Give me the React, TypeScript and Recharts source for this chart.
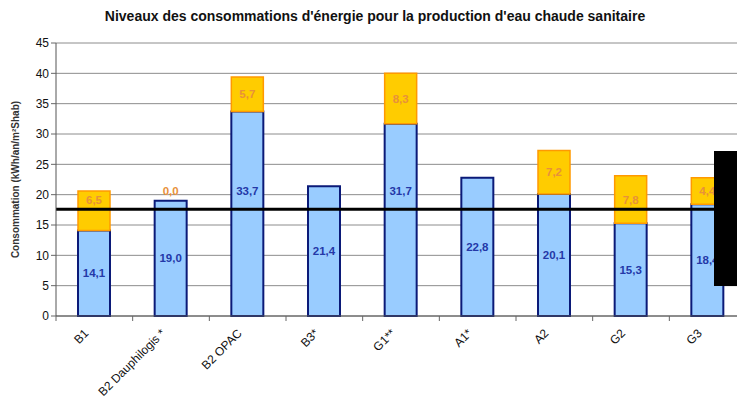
import React from "react";
import { Bar, BarChart, CartesianGrid, LabelList, ReferenceLine, XAxis, YAxis } from "recharts";

const categories = ["B1", "B2 Dauphilogis *", "B2 OPAC", "B3*", "G1**", "A1*", "A2", "G2", "G3"];
const baseValues = [14.1, 19.0, 33.7, 21.4, 31.7, 22.8, 20.1, 15.3, 18.4];
const extraValues: (number | null)[] = [6.5, 0.0, 5.7, null, 8.3, null, 7.2, 7.8, 4.4];
const yTicks = [0, 5, 10, 15, 20, 25, 30, 35, 40, 45];
const threshold = 17.6;

const title = "Niveaux des consommations d'énergie pour la production d'eau chaude sanitaire";
const yTitle = "Consommation (kWh/an/m²Shab)";

const data = categories.map((name, i) => ({ name, base: baseValues[i], extra: extraValues[i] }));

const FONT = "'Liberation Sans', Arial, sans-serif";
const BLUE_TXT = "#2438a8";
const ORANGE_TXT = "#e8913a";
const fmt = (v: number) => v.toFixed(1).replace(".", ",");

const labelText = (cx: number, cy: number, v: number, color: string) => (
  <text
    x={cx}
    y={cy}
    textAnchor="middle"
    dominantBaseline="central"
    fontFamily={FONT}
    fontSize={11.5}
    fontWeight="bold"
    fill={color}
  >
    {fmt(v)}
  </text>
);

// étiquettes centrées, remontées au-dessus du trait de référence si elles le chevauchent
const makeLabel = (kind: "base" | "extra") => (props: any) => {
  const vb = props.viewBox || props;
  const x = Number(props.x ?? vb.x);
  const y = Number(props.y ?? vb.y);
  const h = Number(props.height ?? vb.height);
  const width = Number(props.width ?? vb.width);
  const height = Math.abs(h);
  const value = props.value;
  const index = props.index;
  if (value === null || value === undefined) return null;
  const v = Number(value);
  if (v === 0 || height === 0) return null;
  const cx = x + width / 2;
  const top = Math.min(y, y + h);
  const bottom = top + height;
  let cy = top + height / 2;
  const ppu = height / v;
  const startVal = kind === "base" ? 0 : baseValues[index] ?? 0;
  const thrY = bottom - (threshold - startVal) * ppu;
  if (cy - thrY > -4 && cy - thrY < 14) cy = thrY - (kind === "base" ? 18 : 9);
  const zeroExtra = kind === "base" && extraValues[index] === 0;
  return (
    <g>
      {labelText(cx, cy, v, kind === "base" ? BLUE_TXT : ORANGE_TXT)}
      {zeroExtra && labelText(cx, top - 10, 0, ORANGE_TXT)}
    </g>
  );
};

const XTick = (props: any) => {
  const { x, y, payload, index } = props;
  const half = payload?.offset || 38.3;
  return (
    <g>
      <line x1={x - half} x2={x - half} y1={y} y2={y + 5} stroke="#666" />
      {index === categories.length - 1 && (
        <line x1={x + half} x2={x + half} y1={y} y2={y + 5} stroke="#666" />
      )}
      <text
        transform={`translate(${x - 5},${y + 18}) rotate(-45)`}
        textAnchor="end"
        fontFamily={FONT}
        fontSize={12}
        fill="#111"
      >
        {payload.value}
      </text>
    </g>
  );
};

export default function App() {
  return (
    <div
      style={{
        position: "fixed",
        left: 0,
        top: 0,
        width: 737,
        height: 410,
        overflow: "hidden",
        background: "#fff",
      }}
    >
      <div
        style={{
          position: "absolute",
          top: 8,
          left: 0,
          width: 750,
          textAlign: "center",
          fontFamily: FONT,
          fontWeight: "bold",
          fontSize: 14,
          color: "#111",
        }}
      >
        {title}
      </div>
      <BarChart
        width={760}
        height={410}
        data={data}
        margin={{ top: 43, right: 14, left: 0, bottom: 0 }}
        barCategoryGap="0%"
      >
        <CartesianGrid vertical={false} stroke="#8c8c8c" />
        <XAxis
          dataKey="name"
          height={94}
          interval={0}
          tickLine={false}
          tickSize={0}
          tickMargin={0}
          axisLine={{ stroke: "#555" }}
          tick={<XTick />}
        />
        <YAxis
          width={56}
          domain={[0, 45]}
          ticks={yTicks}
          interval={0}
          tickSize={5}
          tickLine={{ stroke: "#666" }}
          axisLine={{ stroke: "#555" }}
          tick={{ fontSize: 12, fill: "#111", fontFamily: FONT }}
          label={{
            value: yTitle,
            angle: -90,
            position: "insideLeft",
            offset: 15,
            style: { fontSize: 10, fontWeight: "bold", fill: "#333", fontFamily: FONT, textAnchor: "middle" },
          }}
        />
        <Bar dataKey="base" stackId="a" barSize={32} fill="#99ccff" stroke="#0b1a78" strokeWidth={2} isAnimationActive={false}>
          <LabelList dataKey="base" content={makeLabel("base")} />
        </Bar>
        <Bar dataKey="extra" stackId="a" barSize={32} fill="#ffcc00" stroke="#ff9900" strokeWidth={1.5} isAnimationActive={false}>
          <LabelList dataKey="extra" content={makeLabel("extra")} />
        </Bar>
        <ReferenceLine y={threshold} stroke="#000" strokeWidth={3} ifOverflow="extendDomain" />
      </BarChart>
      <div style={{ position: "absolute", left: 714, top: 151, width: 23, height: 135, background: "#000" }} />
    </div>
  );
}
